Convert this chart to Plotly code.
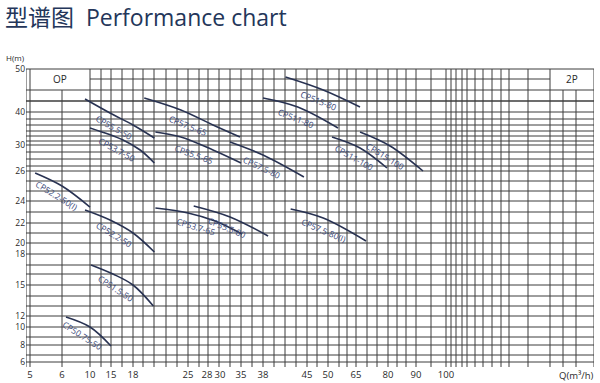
import numpy as np
import plotly.graph_objects as go

# ---- axis tick labels of the printed chart ----
Q_TICKS = [5, 6, 10, 15, 18, 25, 28, 30, 35, 38, 45, 50, 65, 80, 90, 100]
H_TICKS = [6, 8, 10, 12, 15, 18, 20, 22, 24, 26, 30, 40, 50]

# ---- pump curves: flow Q (m3/h) and head H (m) ----
CP50_75_50_Q = [6.57, 10, 15]
CP50_75_50_H = [11.82, 10, 7.88]
CP51_5_50_Q = [10.24, 15.27, 18, 20.59]
CP51_5_50_H = [16.94, 16.06, 15, 12.97]
CP52_2_50_Q = [9.29, 14.76, 18, 20.72]
CP52_2_50_H = [23.18, 22.27, 21, 18.36]
CP52_2_50I_Q = [5.16, 6.0, 10]
CP52_2_50I_H = [25.87, 25.0, 23.45]
CP53_7_50_Q = [10, 16.64, 18.91, 20.72]
CP53_7_50_H = [35.15, 31.52, 29.23, 27.23]
CP55_5_50_Q = [9.29, 14.76, 18, 20.72]
CP55_5_50_H = [43.02, 39.70, 36.06, 32.12]
CP57_5_65_Q = [19.43, 24.09, 28.92, 34.76]
CP57_5_65_H = [43.26, 40.47, 36.06, 32.42]
CP55_5_65_Q = [20.85, 24.09, 28.92, 35]
CP55_5_65_H = [33.94, 32.42, 29.23, 27.23]
CP53_7_65_Q = [20.85, 25, 29.23, 35.14]
CP53_7_65_H = [23.36, 22.91, 22.18, 20.9]
CP55_5_80_Q = [25.9, 32.38, 38.81]
CP55_5_80_H = [23.55, 22.55, 20.7]
CP57_5_80_Q = [32.38, 38, 44.51]
CP57_5_80_H = [30.91, 28.46, 25.6]
CP57_5_80I_Q = [42.4, 48.86, 69.69]
CP57_5_80I_H = [23.27, 22.45, 20.2]
CP511_80_Q = [38, 43.53, 55.36]
CP511_80_H = [43.26, 41.16, 35.15]
CP515_80_Q = [41.58, 48.86, 66.88]
CP515_80_H = [48.14, 45.12, 41.16]
CP511_100_Q = [52.14, 66.88, 79.53]
CP511_100_H = [32.42, 29.54, 26.46]
CP515_100_Q = [66.88, 80.74, 92.33]
CP515_100_H = [33.94, 29.85, 26.0]

CURVES = [
    ("CP50.75-50", CP50_75_50_Q, CP50_75_50_H),
    ("CP51.5-50", CP51_5_50_Q, CP51_5_50_H),
    ("CP52.2-50", CP52_2_50_Q, CP52_2_50_H),
    ("CP52.2-50(I)", CP52_2_50I_Q, CP52_2_50I_H),
    ("CP53.7-50", CP53_7_50_Q, CP53_7_50_H),
    ("CP55.5-50", CP55_5_50_Q, CP55_5_50_H),
    ("CP57.5-65", CP57_5_65_Q, CP57_5_65_H),
    ("CP55.5-65", CP55_5_65_Q, CP55_5_65_H),
    ("CP53.7-65", CP53_7_65_Q, CP53_7_65_H),
    ("CP55.5-80", CP55_5_80_Q, CP55_5_80_H),
    ("CP57.5-80", CP57_5_80_Q, CP57_5_80_H),
    ("CP57.5-80(I)", CP57_5_80I_Q, CP57_5_80I_H),
    ("CP511-80", CP511_80_Q, CP511_80_H),
    ("CP515-80", CP515_80_Q, CP515_80_H),
    ("CP511-100", CP511_100_Q, CP511_100_H),
    ("CP515-100", CP515_100_Q, CP515_100_H),
]

# ---- the printed chart's non-uniform scale (layout): axis position of each tick ----
Q_TICK_POS = [30, 62, 90, 111, 133, 188, 207, 220, 241, 263, 307, 328, 356, 388, 416, 446]
H_TICK_POS = [362, 345, 327, 316, 285, 254, 243, 223, 201, 171, 145, 112, 69]
X_RANGE = [26, 594]
Y_RANGE = [367, 68]


def qscale(q):
    return np.interp(q, Q_TICKS, Q_TICK_POS)


def hscale(h):
    return np.interp(h, H_TICKS, H_TICK_POS)


# grid layout (axis units)
X_GRID_FULL = [26, 30, 90, 101, 111, 122, 133, 143, 154, 166, 177, 188, 199, 208, 219,
               230, 241, 252, 263, 274, 285, 296, 307, 317, 328, 339, 347, 356, 367, 377,
               388, 397, 406, 416, 431, 446, 451, 456, 462, 467, 475, 483, 492, 501, 509,
               528, 550, 594]
X_GRID_PART = [62, 563, 576]
Y_GRID = [69, 90, 101, 112, 119, 125, 131, 136, 141, 145, 152, 159, 166, 171, 181, 191,
          201, 212, 223, 233, 243, 254, 265, 274, 285, 296, 306, 316, 327, 337, 345, 355, 362]

GRID_COLOR = "#3c3c3c"
CURVE_COLOR = "#283252"
LABEL_COLOR = "#3a4878"
TEXT_COLOR = "#2a2a2a"
FONT = "Open Sans, Noto Sans CJK SC, sans-serif"

fig = go.Figure()

shapes = []
for x in X_GRID_FULL:
    shapes.append(dict(type="line", xref="x", yref="y", x0=x, x1=x, y0=69, y1=367,
                       line=dict(color=GRID_COLOR, width=1), layer="below"))
for x in X_GRID_PART:
    shapes.append(dict(type="line", xref="x", yref="y", x0=x, x1=x, y0=90, y1=367,
                       line=dict(color=GRID_COLOR, width=1), layer="below"))
for y in Y_GRID:
    shapes.append(dict(type="line", xref="x", yref="y", x0=26, x1=594, y0=y, y1=y,
                       line=dict(color=GRID_COLOR, width=1.6 if y == 101 else 1), layer="below"))
shapes.append(dict(type="line", xref="x", yref="y", x0=90, x1=550, y0=79, y1=79,
                   line=dict(color=GRID_COLOR, width=1), layer="below"))

annotations = []
for name, q, h in CURVES:
    xs = qscale(q)
    ys = hscale(h)
    fig.add_trace(go.Scatter(x=xs, y=ys, mode="lines", name=name,
                             line=dict(color=CURVE_COLOR, width=1.6, shape="spline"),
                             hoverinfo="skip", showlegend=False))
    ang = np.arctan2(ys[-1] - ys[0], xs[-1] - xs[0])
    xm = (xs[0] + xs[-1]) / 2
    ym = np.interp(xm, xs, ys)
    d = 11
    annotations.append(dict(x=xm - d * np.sin(ang), y=ym + d * np.cos(ang), xref="x", yref="y",
                            text=name, showarrow=False, textangle=float(np.degrees(ang)),
                            font=dict(family=FONT, size=8.5, color=LABEL_COLOR)))


def px_x(p):
    return (p - X_RANGE[0]) / (X_RANGE[1] - X_RANGE[0])


def px_y(p):
    return (Y_RANGE[0] - p) / (Y_RANGE[0] - Y_RANGE[1])


annotations += [
    dict(x=px_x(4), y=px_y(57), xref="paper", yref="paper", text="H(m)", showarrow=False,
         xanchor="left", yanchor="middle", font=dict(family=FONT, size=8, color=TEXT_COLOR)),
    dict(x=px_x(596), y=px_y(375), xref="paper", yref="paper", text="Q(m³/h)", showarrow=False,
         xanchor="right", yanchor="middle", font=dict(family=FONT, size=9.5, color=TEXT_COLOR)),
    dict(x=px_x(60), y=px_y(79), xref="paper", yref="paper", text="OP", showarrow=False,
         xanchor="center", yanchor="middle", font=dict(family=FONT, size=10, color=TEXT_COLOR)),
    dict(x=px_x(572), y=px_y(79), xref="paper", yref="paper", text="2P", showarrow=False,
         xanchor="center", yanchor="middle", font=dict(family=FONT, size=10, color=TEXT_COLOR)),
]

fig.update_layout(
    template="none",
    width=600, height=383,
    margin=dict(l=26, r=6, t=68, b=16, autoexpand=False),
    paper_bgcolor="white", plot_bgcolor="white",
    title=dict(text="型谱图  Performance chart", x=5 / 600, xanchor="left",
               y=1 - 18 / 383, yanchor="middle", xref="container", yref="container",
               automargin=False,
               font=dict(family=FONT, size=23, color="#24365a")),
    shapes=shapes,
    annotations=annotations,
    xaxis=dict(range=X_RANGE, autorange=False, automargin=False, showgrid=False,
               zeroline=False, showline=False, ticks="", ticklen=0, tickangle=0,
               tickmode="array", tickvals=list(qscale(Q_TICKS)),
               ticktext=[str(v) for v in Q_TICKS],
               tickfont=dict(family=FONT, size=9.5, color=TEXT_COLOR)),
    yaxis=dict(range=Y_RANGE, autorange=False, automargin=False, showgrid=False,
               zeroline=False, showline=False, ticks="", ticklen=0,
               tickmode="array", tickvals=list(hscale(H_TICKS)),
               ticktext=[str(v) for v in H_TICKS],
               tickfont=dict(family=FONT, size=8.5, color=TEXT_COLOR)),
)

fig.write_html("out.html")
